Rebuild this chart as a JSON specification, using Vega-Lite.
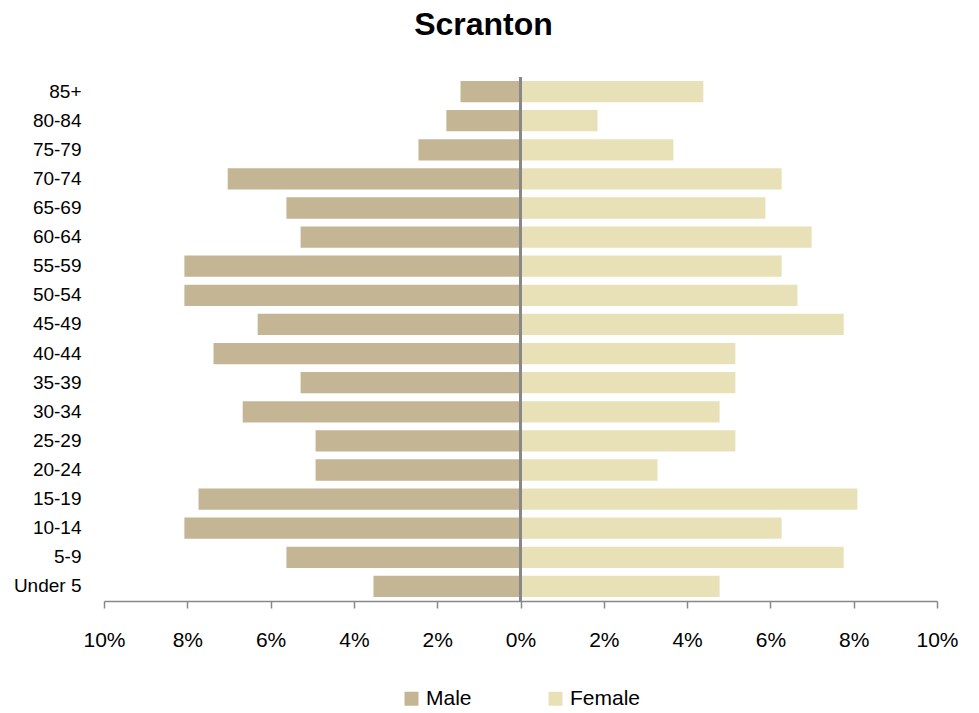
{
  "$schema": "https://vega.github.io/schema/vega-lite/v6.json",
  "width": 833,
  "height": 524,
  "autosize": "none",
  "padding": {"left": 104, "top": 77, "right": 42, "bottom": 112},
  "background": "white",
  "title": {"text": "Scranton", "fontSize": 32, "fontWeight": "bold", "font": "Liberation Sans", "color": "black", "offset": 34, "dx": -37},
  "config": {"view": {"stroke": null}, "font": "Liberation Sans"},
  "data": {"values": [
    {"age": "85+", "sex": "Male", "pct": -1.44},
    {"age": "80-84", "sex": "Male", "pct": -1.78},
    {"age": "75-79", "sex": "Male", "pct": -2.45},
    {"age": "70-74", "sex": "Male", "pct": -7.03},
    {"age": "65-69", "sex": "Male", "pct": -5.62},
    {"age": "60-64", "sex": "Male", "pct": -5.28},
    {"age": "55-59", "sex": "Male", "pct": -8.07},
    {"age": "50-54", "sex": "Male", "pct": -8.07},
    {"age": "45-49", "sex": "Male", "pct": -6.31},
    {"age": "40-44", "sex": "Male", "pct": -7.37},
    {"age": "35-39", "sex": "Male", "pct": -5.28},
    {"age": "30-34", "sex": "Male", "pct": -6.67},
    {"age": "25-29", "sex": "Male", "pct": -4.92},
    {"age": "20-24", "sex": "Male", "pct": -4.92},
    {"age": "15-19", "sex": "Male", "pct": -7.73},
    {"age": "10-14", "sex": "Male", "pct": -8.07},
    {"age": "5-9", "sex": "Male", "pct": -5.62},
    {"age": "Under 5", "sex": "Male", "pct": -3.53},
    {"age": "85+", "sex": "Female", "pct": 4.39},
    {"age": "80-84", "sex": "Female", "pct": 1.85},
    {"age": "75-79", "sex": "Female", "pct": 3.67},
    {"age": "70-74", "sex": "Female", "pct": 6.27},
    {"age": "65-69", "sex": "Female", "pct": 5.88},
    {"age": "60-64", "sex": "Female", "pct": 6.99},
    {"age": "55-59", "sex": "Female", "pct": 6.27},
    {"age": "50-54", "sex": "Female", "pct": 6.65},
    {"age": "45-49", "sex": "Female", "pct": 7.76},
    {"age": "40-44", "sex": "Female", "pct": 5.16},
    {"age": "35-39", "sex": "Female", "pct": 5.16},
    {"age": "30-34", "sex": "Female", "pct": 4.78},
    {"age": "25-29", "sex": "Female", "pct": 5.16},
    {"age": "20-24", "sex": "Female", "pct": 3.29},
    {"age": "15-19", "sex": "Female", "pct": 8.09},
    {"age": "10-14", "sex": "Female", "pct": 6.27},
    {"age": "5-9", "sex": "Female", "pct": 7.76},
    {"age": "Under 5", "sex": "Female", "pct": 4.78}
  ]},
  "layer": [
    {
      "mark": {"type": "bar"},
      "encoding": {
        "y": {
          "field": "age", "type": "nominal",
          "sort": ["85+","80-84","75-79","70-74","65-69","60-64","55-59","50-54","45-49","40-44","35-39","30-34","25-29","20-24","15-19","10-14","5-9","Under 5"],
          "scale": {"paddingInner": 0.27, "paddingOuter": 0.135},
          "axis": {"title": null, "domain": false, "ticks": false, "labelPadding": 23, "labelFontSize": 19, "labelColor": "black", "labelFont": "Liberation Sans"}
        },
        "x": {
          "field": "pct", "type": "quantitative",
          "scale": {"domain": [-10, 10], "nice": false},
          "axis": {"title": null, "values": [-10,-8,-6,-4,-2,0,2,4,6,8,10], "labelExpr": "abs(datum.value) + '%'", "grid": false, "domainColor": "#888888", "domainWidth": 1.5, "tickColor": "#888888", "tickSize": 7, "tickWidth": 1.5, "labelPadding": 21, "labelFontSize": 21, "labelColor": "black", "labelFont": "Liberation Sans", "labelFlush": false}
        },
        "color": {
          "field": "sex", "type": "nominal",
          "scale": {"domain": ["Male", "Female"], "range": ["#C4B694", "#E8E1B8"]},
          "legend": {"title": null, "orient": "none", "direction": "horizontal", "legendX": 297, "legendY": 611, "symbolType": "square", "symbolSize": 196, "symbolStrokeWidth": 0, "labelFontSize": 21, "labelColor": "black", "labelFont": "Liberation Sans", "columnPadding": 73, "labelOffset": 4}
        }
      }
    },
    {
      "mark": {"type": "rule", "color": "#888888", "strokeWidth": 1.5},
      "encoding": {"x": {"datum": 0}}
    }
  ]
}
